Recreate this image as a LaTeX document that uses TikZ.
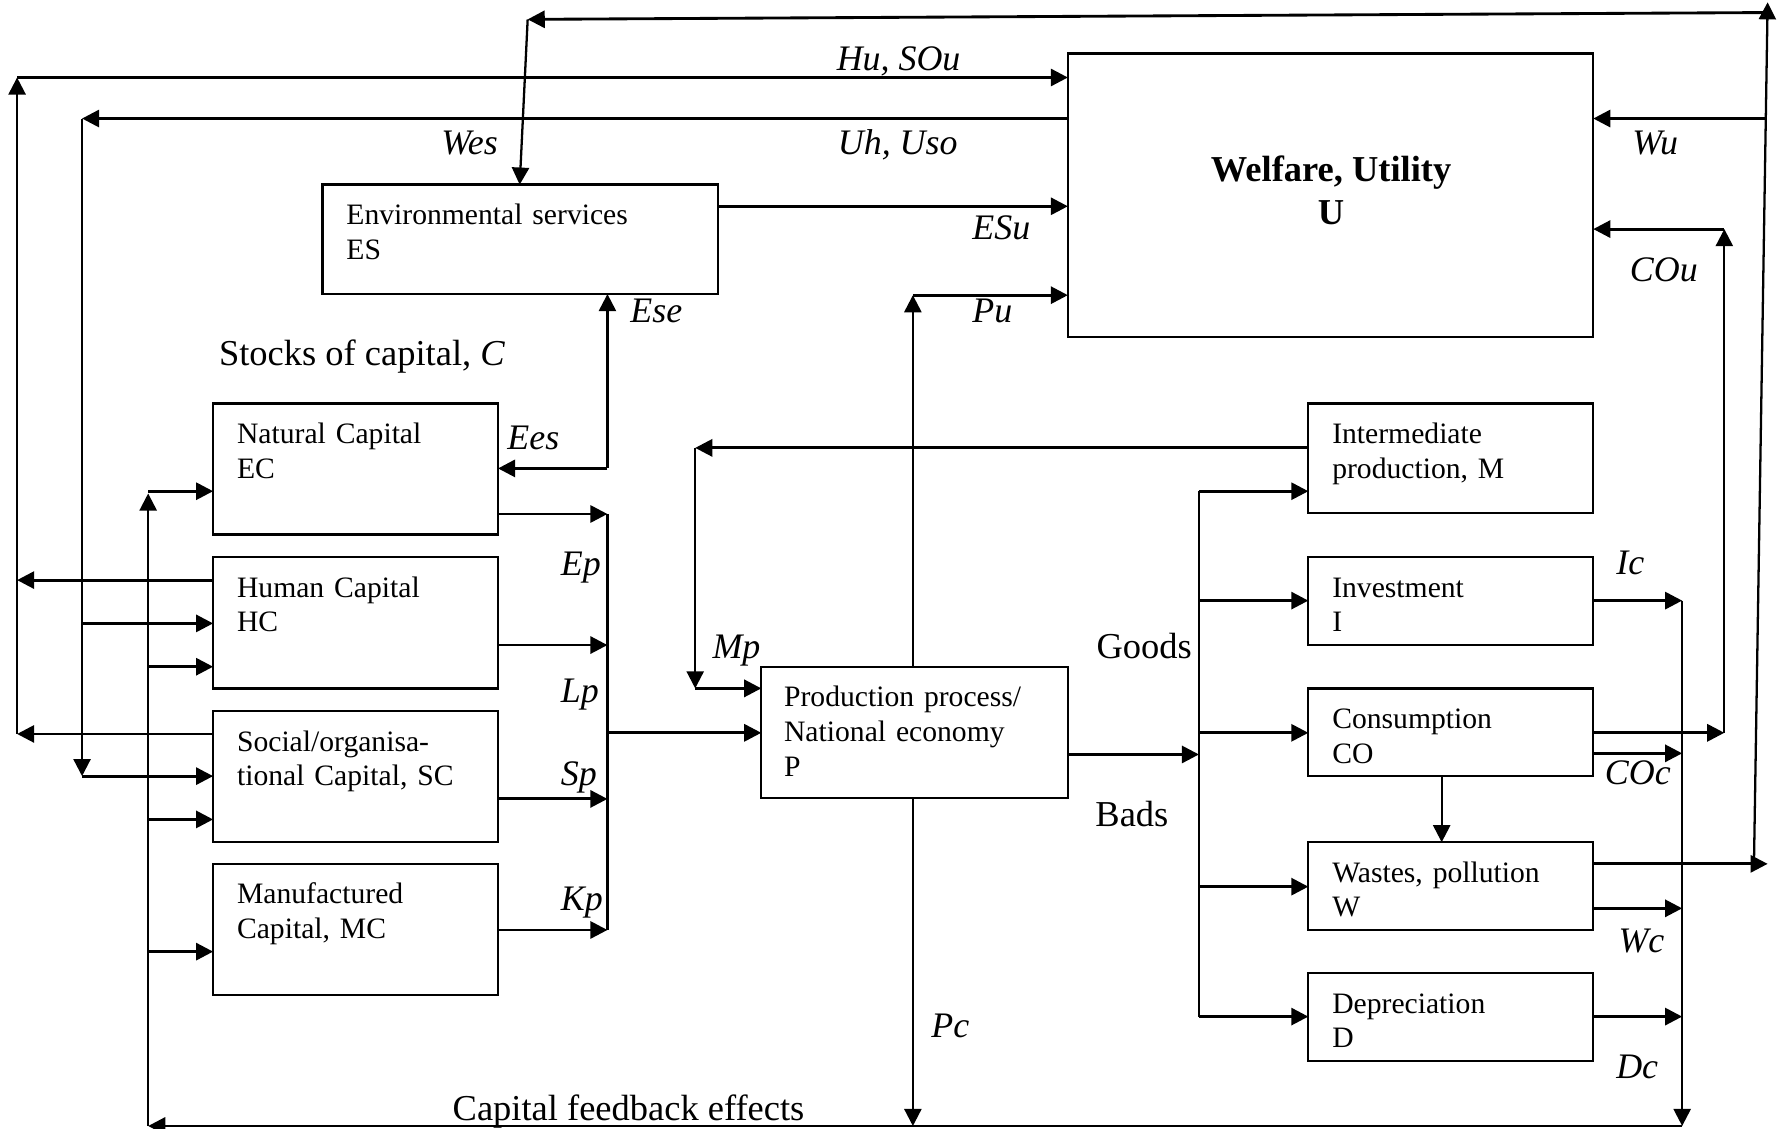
\documentclass[tikz,border=0pt]{standalone}
\usepackage{fontspec}
\setmainfont{Liberation Serif}
\usetikzlibrary{arrows.meta}
\begin{document}
\begin{tikzpicture}[x=1pt,y=-1pt,
 box/.style={draw, line width=2pt, anchor=north west, inner sep=0pt, outer sep=0pt},
 btxt/.style={anchor=base west, inner sep=0pt, outer sep=0pt, align=left, text width=330pt, font=\fontsize{26}{30.5}\selectfont},
 lbl/.style={anchor=base west, inner sep=0pt, font=\fontsize{31.5}{36}\selectfont\itshape},
 big/.style={anchor=base west, inner sep=0pt, font=\fontsize{32}{36}\selectfont},
 ttl/.style={anchor=base, inner sep=0pt, font=\fontsize{32}{36}\selectfont\bfseries},
 ln/.style={line width=2pt},
 arr/.style={line width=2.5pt, -{Triangle[length=15pt,width=15pt]}},
 varr/.style={line width=2pt, -{Triangle[length=15pt,width=15pt]}},
]
\fill[white] (0,0) rectangle (1568,990);
\useasboundingbox (0,0) rectangle (1568,990);

% boxes
\node[box, minimum width=461pt, minimum height=249pt] (U) at (937,47) {};
\node[box, minimum width=347pt, minimum height=96pt] (ES) at (283,162) {};
\node[box, minimum width=250pt, minimum height=115pt] (EC) at (187,354) {};
\node[box, minimum width=250pt, minimum height=115pt] (HC) at (187,489) {};
\node[box, minimum width=250pt, minimum height=115pt] (SC) at (187,624) {};
\node[box, minimum width=250pt, minimum height=115pt] (MC) at (187,758) {};
\node[box, minimum width=269pt, minimum height=115pt] (P) at (668,585) {};
\node[box, minimum width=250pt, minimum height=96pt] (M) at (1148,354) {};
\node[box, minimum width=250pt, minimum height=77pt] (I) at (1148,489) {};
\node[box, minimum width=250pt, minimum height=77pt] (CO) at (1148,604) {};
\node[box, minimum width=250pt, minimum height=77pt] (W) at (1148,739) {};
\node[box, minimum width=250pt, minimum height=77pt] (D) at (1148,854) {};

% box texts
\node[ttl] (Ut1) at (1168,159) {Welfare, Utility};
\node[ttl] (Ut2) at (1168,197) {U};
\node[btxt] (ESt) at ([shift={(21,35)}]ES.north west) {Environmental services\\ES};
\node[btxt] (ECt) at ([shift={(21,35)}]EC.north west) {Natural Capital\\EC};
\node[btxt] (HCt) at ([shift={(21,35)}]HC.north west) {Human Capital\\HC};
\node[btxt] (SCt) at ([shift={(21,35)}]SC.north west) {Social/organisa-\\tional Capital, SC};
\node[btxt] (MCt) at ([shift={(21,35)}]MC.north west) {Manufactured\\Capital, MC};
\node[btxt] (Pt) at ([shift={(20,35)}]P.north west) {Production process/\\National economy\\P};
\node[btxt] (Mt) at ([shift={(21,35)}]M.north west) {Intermediate\\production, M};
\node[btxt] (It) at ([shift={(21,35)}]I.north west) {Investment\\I};
\node[btxt] (COt) at ([shift={(21,35)}]CO.north west) {Consumption\\CO};
\node[btxt] (Wt) at ([shift={(21,35)}]W.north west) {Wastes, pollution\\W};
\node[btxt] (Dt) at ([shift={(21,35)}]D.north west) {Depreciation\\D};

% labels
\node[lbl] (lHu) at (734,62) {Hu, SOu};
\node[lbl] (lUh) at (735,136) {Uh, Uso};
\node[lbl] (lWes) at (387,136) {Wes};
\node[lbl] (lEse) at (553,283) {Ese};
\node[lbl] (lESu) at (853,210) {ESu};
\node[lbl] (lPu) at (853,283) {Pu};
\node[lbl] (lWu) at (1432,136) {Wu};
\node[lbl] (lCOu) at (1430,247) {COu};
\node[lbl] (lEes) at (445,394) {Ees};
\node[lbl] (lEp) at (492,505) {Ep};
\node[lbl] (lLp) at (492,616) {Lp};
\node[lbl] (lSp) at (492,689) {Sp};
\node[lbl] (lKp) at (492,798.5) {Kp};
\node[lbl] (lMp) at (625,578) {Mp};
\node[lbl] (lIc) at (1418,504.5) {Ic};
\node[lbl] (lCOc) at (1408,688) {COc};
\node[lbl] (lWc) at (1420,836) {Wc};
\node[lbl] (lDc) at (1418,946) {Dc};
\node[lbl] (lPc) at (817,910) {Pc};
\node[big] (lGoods) at (962,578) {Goods};
\node[big] (lBads) at (961,725) {Bads};
\node[big] (lStocks) at (192,321) {Stocks of capital, \textit{C}};
\node[big] (lFeed) at (397,983) {Capital feedback effects};

% wastes loop (top)
\draw[arr] (W.east |- 0,758) -- (1551,758);
\draw[varr] (1539,758) -- (1551,2);
\draw[arr] (1551,11) -- (463,17);
\draw[varr] (463,17) -- (456,0 |- ES.north);
\draw[arr] (1549,104) -- (U.east |- 0,104);

% Hu, SOu
\draw[arr] (HC.west |- 0,509) -- (15,509);
\draw[arr] (SC.west |- 0,644) -- (15,644);
\draw[varr] (15,644) -- (15,68);
\draw[arr] (15,68) -- (U.west |- 0,68);

% Uh, Uso
\draw[arr] (U.west |- 0,104) -- (72,104);
\draw[varr] (72,104) -- (72,681);
\draw[arr] (72,681) -- (SC.west |- 0,681);
\draw[arr] (72,547) -- (HC.west |- 0,547);

% capital feedback
\draw[varr] (1476,527) -- (1476,988);
\draw[arr] (1476,988) -- (130,988);
\draw[varr] (130,988) -- (130,433);
\draw[arr] (130,431) -- (EC.west |- 0,431);
\draw[arr] (130,585) -- (HC.west |- 0,585);
\draw[arr] (130,719) -- (SC.west |- 0,719);
\draw[arr] (130,835) -- (MC.west |- 0,835);

% capital to production
\draw[arr] (EC.east |- 0,451) -- (533,451);
\draw[arr] (HC.east |- 0,566) -- (533,566);
\draw[arr] (SC.east |- 0,701) -- (533,701);
\draw[arr] (MC.east |- 0,816) -- (533,816);
\draw[ln] (533,451) -- (533,816);
\draw[arr] (533,643) -- (P.west |- 0,643);

% Ees / Ese
\draw[varr] (533,411) -- (533,0 |- ES.south);
\draw[arr] (533,411) -- (EC.east |- 0,411);

% ESu
\draw[arr] (ES.east |- 0,181) -- (U.west |- 0,181);

% Pu, Pc
\draw[varr] (801,0 |- P.north) -- (801,259);
\draw[arr] (801,259) -- (U.west |- 0,259);
\draw[varr] (801,0 |- P.south) -- (801,988);

% Mp
\draw[arr] (M.west |- 0,393) -- (610,393);
\draw[varr] (610,393) -- (610,604);
\draw[arr] (610,604) -- (P.west |- 0,604);

% goods / bads
\draw[arr] (P.east |- 0,662) -- (1052,662);
\draw[ln] (1052,431) -- (1052,892);
\draw[arr] (1052,431) -- (M.west |- 0,431);
\draw[arr] (1052,527) -- (I.west |- 0,527);
\draw[arr] (1052,643) -- (CO.west |- 0,643);
\draw[arr] (1052,778) -- (W.west |- 0,778);
\draw[arr] (1052,892) -- (D.west |- 0,892);

% CO to W
\draw[varr] (1265,0 |- CO.south) -- (1265,0 |- W.north);

% to capital feedback
\draw[arr] (I.east |- 0,527) -- (1476,527);
\draw[arr] (CO.east |- 0,661) -- (1476,661);
\draw[arr] (W.east |- 0,797) -- (1476,797);
\draw[arr] (D.east |- 0,892) -- (1476,892);

% COu
\draw[arr] (CO.east |- 0,643) -- (1513,643);
\draw[varr] (1513,643) -- (1513,201);
\draw[arr] (1513,201) -- (U.east |- 0,201);
\end{tikzpicture}
\end{document}
